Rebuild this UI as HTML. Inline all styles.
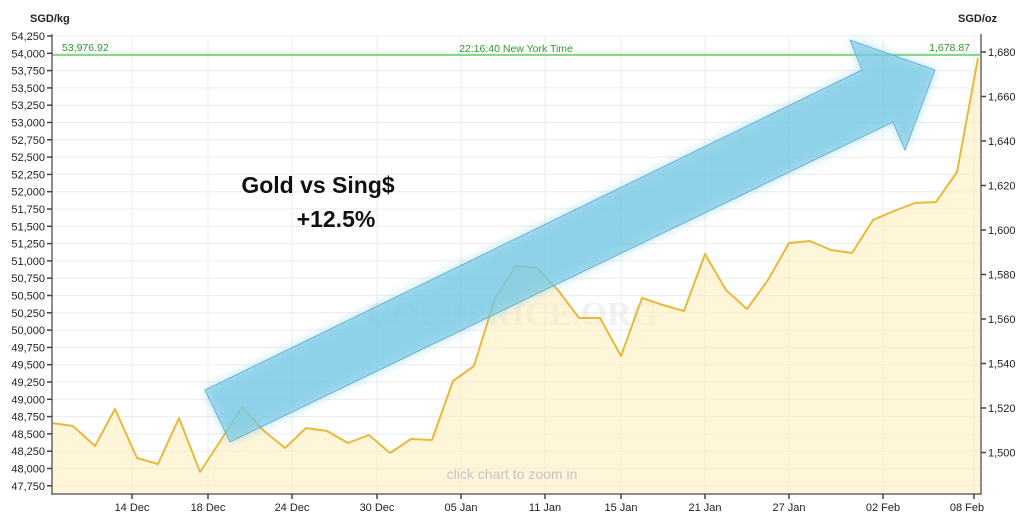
<!DOCTYPE html>
<html><head><meta charset="utf-8"><style>
body{margin:0;background:#fff;}
svg{display:block;font-family:"Liberation Sans",sans-serif;}
.l{font-size:11px;fill:#222;text-anchor:end}
.r{font-size:11px;fill:#222}
.x{font-size:11px;fill:#222;text-anchor:middle}
</style></head><body>
<svg width="1024" height="524" viewBox="0 0 1024 524">
<defs><filter id="bl" x="-20%" y="-20%" width="140%" height="140%"><feGaussianBlur stdDeviation="5"/></filter></defs>
<g stroke="#ececec" stroke-width="1">
<line x1="52" x2="980" y1="36" y2="36"/><line x1="52" x2="980" y1="53.3" y2="53.3"/><line x1="52" x2="980" y1="70.6" y2="70.6"/><line x1="52" x2="980" y1="87.9" y2="87.9"/><line x1="52" x2="980" y1="105.2" y2="105.2"/><line x1="52" x2="980" y1="122.5" y2="122.5"/><line x1="52" x2="980" y1="139.8" y2="139.8"/><line x1="52" x2="980" y1="157.1" y2="157.1"/><line x1="52" x2="980" y1="174.4" y2="174.4"/><line x1="52" x2="980" y1="191.7" y2="191.7"/><line x1="52" x2="980" y1="209" y2="209"/><line x1="52" x2="980" y1="226.3" y2="226.3"/><line x1="52" x2="980" y1="243.6" y2="243.6"/><line x1="52" x2="980" y1="260.9" y2="260.9"/><line x1="52" x2="980" y1="278.2" y2="278.2"/><line x1="52" x2="980" y1="295.5" y2="295.5"/><line x1="52" x2="980" y1="312.8" y2="312.8"/><line x1="52" x2="980" y1="330.1" y2="330.1"/><line x1="52" x2="980" y1="347.4" y2="347.4"/><line x1="52" x2="980" y1="364.7" y2="364.7"/><line x1="52" x2="980" y1="382" y2="382"/><line x1="52" x2="980" y1="399.3" y2="399.3"/><line x1="52" x2="980" y1="416.6" y2="416.6"/><line x1="52" x2="980" y1="433.9" y2="433.9"/><line x1="52" x2="980" y1="451.2" y2="451.2"/><line x1="52" x2="980" y1="468.5" y2="468.5"/><line x1="52" x2="980" y1="485.8" y2="485.8"/>
<line x1="132" x2="132" y1="36" y2="494"/><line x1="208" x2="208" y1="36" y2="494"/><line x1="292" x2="292" y1="36" y2="494"/><line x1="377" x2="377" y1="36" y2="494"/><line x1="461" x2="461" y1="36" y2="494"/><line x1="545" x2="545" y1="36" y2="494"/><line x1="621" x2="621" y1="36" y2="494"/><line x1="705" x2="705" y1="36" y2="494"/><line x1="789" x2="789" y1="36" y2="494"/><line x1="883" x2="883" y1="36" y2="494"/><line x1="974" x2="974" y1="36" y2="494"/>
</g>
<text x="512" y="325" font-family="Liberation Serif,serif" font-size="34" font-weight="bold" fill="#e8e8e8" text-anchor="middle" opacity="0.6">GOLDPRICE.ORG</text>
<polygon fill="rgba(255,236,180,0.5)" points="52,494 52,423 73,426 95,446 115,409 137,458 158,464 179,418 200,472 221,440 242,407 263,430 285,448 306,428 327,431 348,443 369,435 390,453 411,439 432,440 453,381 474,366 495,298 516,266 537,268 558,290 579,318 600,318 621,356 642,298 663,305 684,311 705,254 726,290 747,309 768,280 789,243 810,241 831,250 852,253 873,220 894,211 915,203 936,202 957,172 978,58 980,58 980,494"/>
<polyline fill="none" stroke="#e8b93a" stroke-width="2" stroke-linejoin="round" points="52,423 73,426 95,446 115,409 137,458 158,464 179,418 200,472 221,440 242,407 263,430 285,448 306,428 327,431 348,443 369,435 390,453 411,439 432,440 453,381 474,366 495,298 516,266 537,268 558,290 579,318 600,318 621,356 642,298 663,305 684,311 705,254 726,290 747,309 768,280 789,243 810,241 831,250 852,253 873,220 894,211 915,203 936,202 957,172 978,58"/>
<line x1="52" x2="980" y1="55" y2="55" stroke="#3cc43c" stroke-width="1.2"/>
<text x="62" y="51" font-size="10.5" fill="#2a9a2a">53,976.92</text>
<text x="516" y="52" font-size="10.5" fill="#2a9a2a" text-anchor="middle">22:16:40 New York Time</text>
<text x="970" y="51" font-size="10.5" fill="#2a9a2a" text-anchor="end">1,678.87</text>
<polygon points="205,390 862,70 850,40 935,70 905,150 893,122 230,442" fill="rgba(110,200,230,0.55)" filter="url(#bl)"/>
<polygon points="205,390 862,70 850,40 935,70 905,150 893,122 230,442" fill="rgba(120,200,228,0.6)" stroke="#5aaac8" stroke-width="0.8"/>
<text x="318" y="193" font-size="23" font-weight="bold" fill="#111" text-anchor="middle">Gold vs Sing$</text>
<text x="336" y="227" font-size="23" font-weight="bold" fill="#111" text-anchor="middle">+12.5%</text>
<text x="512" y="479" font-size="14" fill="#c4c4c4" text-anchor="middle">click chart to zoom in</text>
<g stroke="#666" stroke-width="1.5"><line x1="52" x2="52" y1="34" y2="495"/><line x1="981" x2="981" y1="34" y2="495"/><line x1="52" x2="981" y1="494" y2="494"/></g>
<g stroke="#444" stroke-width="1.5">
<line x1="47" x2="52" y1="36" y2="36"/><line x1="47" x2="52" y1="53.3" y2="53.3"/><line x1="47" x2="52" y1="70.6" y2="70.6"/><line x1="47" x2="52" y1="87.9" y2="87.9"/><line x1="47" x2="52" y1="105.2" y2="105.2"/><line x1="47" x2="52" y1="122.5" y2="122.5"/><line x1="47" x2="52" y1="139.8" y2="139.8"/><line x1="47" x2="52" y1="157.1" y2="157.1"/><line x1="47" x2="52" y1="174.4" y2="174.4"/><line x1="47" x2="52" y1="191.7" y2="191.7"/><line x1="47" x2="52" y1="209" y2="209"/><line x1="47" x2="52" y1="226.3" y2="226.3"/><line x1="47" x2="52" y1="243.6" y2="243.6"/><line x1="47" x2="52" y1="260.9" y2="260.9"/><line x1="47" x2="52" y1="278.2" y2="278.2"/><line x1="47" x2="52" y1="295.5" y2="295.5"/><line x1="47" x2="52" y1="312.8" y2="312.8"/><line x1="47" x2="52" y1="330.1" y2="330.1"/><line x1="47" x2="52" y1="347.4" y2="347.4"/><line x1="47" x2="52" y1="364.7" y2="364.7"/><line x1="47" x2="52" y1="382" y2="382"/><line x1="47" x2="52" y1="399.3" y2="399.3"/><line x1="47" x2="52" y1="416.6" y2="416.6"/><line x1="47" x2="52" y1="433.9" y2="433.9"/><line x1="47" x2="52" y1="451.2" y2="451.2"/><line x1="47" x2="52" y1="468.5" y2="468.5"/><line x1="47" x2="52" y1="485.8" y2="485.8"/>
<line x1="981" x2="986" y1="52" y2="52"/><line x1="981" x2="986" y1="96.5" y2="96.5"/><line x1="981" x2="986" y1="141" y2="141"/><line x1="981" x2="986" y1="185.5" y2="185.5"/><line x1="981" x2="986" y1="230" y2="230"/><line x1="981" x2="986" y1="274.5" y2="274.5"/><line x1="981" x2="986" y1="319" y2="319"/><line x1="981" x2="986" y1="363.5" y2="363.5"/><line x1="981" x2="986" y1="408" y2="408"/><line x1="981" x2="986" y1="452.5" y2="452.5"/>
<line x1="132" x2="132" y1="494" y2="499"/><line x1="208" x2="208" y1="494" y2="499"/><line x1="292" x2="292" y1="494" y2="499"/><line x1="377" x2="377" y1="494" y2="499"/><line x1="461" x2="461" y1="494" y2="499"/><line x1="545" x2="545" y1="494" y2="499"/><line x1="621" x2="621" y1="494" y2="499"/><line x1="705" x2="705" y1="494" y2="499"/><line x1="789" x2="789" y1="494" y2="499"/><line x1="883" x2="883" y1="494" y2="499"/><line x1="974" x2="974" y1="494" y2="499"/>
</g>
<text x="30" y="22" font-size="11" font-weight="bold" fill="#222">SGD/kg</text>
<text x="958" y="22" font-size="11" font-weight="bold" fill="#222">SGD/oz</text>
<g class="l">
<text x="45" y="40">54,250</text><text x="45" y="57.3">54,000</text><text x="45" y="74.6">53,750</text><text x="45" y="91.9">53,500</text><text x="45" y="109.2">53,250</text><text x="45" y="126.5">53,000</text><text x="45" y="143.8">52,750</text><text x="45" y="161.1">52,500</text><text x="45" y="178.4">52,250</text><text x="45" y="195.7">52,000</text><text x="45" y="213">51,750</text><text x="45" y="230.3">51,500</text><text x="45" y="247.6">51,250</text><text x="45" y="264.9">51,000</text><text x="45" y="282.2">50,750</text><text x="45" y="299.5">50,500</text><text x="45" y="316.8">50,250</text><text x="45" y="334.1">50,000</text><text x="45" y="351.4">49,750</text><text x="45" y="368.7">49,500</text><text x="45" y="386">49,250</text><text x="45" y="403.3">49,000</text><text x="45" y="420.6">48,750</text><text x="45" y="437.9">48,500</text><text x="45" y="455.2">48,250</text><text x="45" y="472.5">48,000</text><text x="45" y="489.8">47,750</text>
</g>
<g class="r">
<text x="988" y="56">1,680</text><text x="988" y="100.5">1,660</text><text x="988" y="145">1,640</text><text x="988" y="189.5">1,620</text><text x="988" y="234">1,600</text><text x="988" y="278.5">1,580</text><text x="988" y="323">1,560</text><text x="988" y="367.5">1,540</text><text x="988" y="412">1,520</text><text x="988" y="456.5">1,500</text>
</g>
<g class="x">
<text x="132" y="511">14 Dec</text><text x="208" y="511">18 Dec</text><text x="292" y="511">24 Dec</text><text x="377" y="511">30 Dec</text><text x="461" y="511">05 Jan</text><text x="545" y="511">11 Jan</text><text x="621" y="511">15 Jan</text><text x="705" y="511">21 Jan</text><text x="789" y="511">27 Jan</text><text x="883" y="511">02 Feb</text><text x="967" y="511">08 Feb</text>
</g>
</svg>
</body></html>
